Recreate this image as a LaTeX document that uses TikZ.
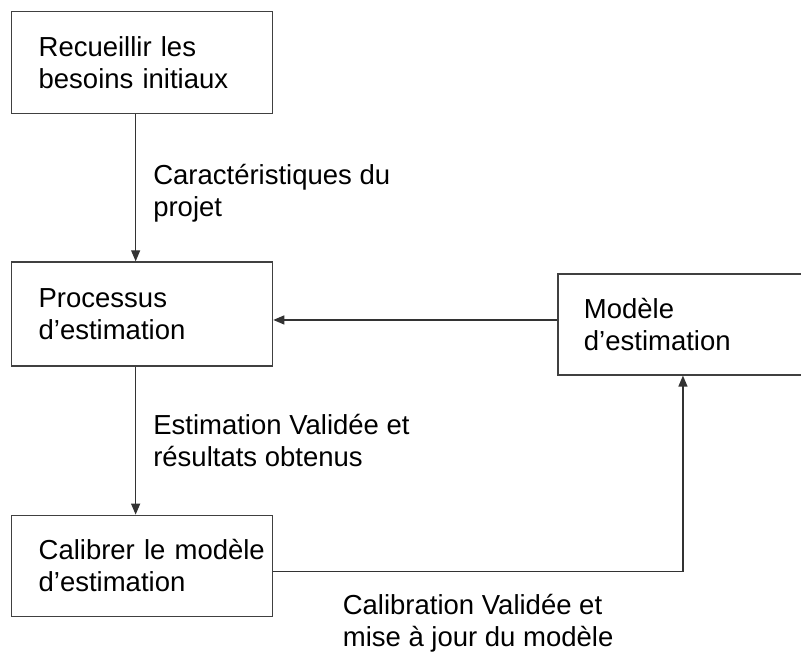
\documentclass[tikz,border=0pt]{standalone}
\usepackage{fontspec}
\setmainfont{Liberation Sans}
\usetikzlibrary{positioning, arrows.meta}
\hyphenpenalty=10000

\begin{document}
\begin{tikzpicture}[
        x=1pt, y=-1pt,
        font=\fontsize{27.5}{32}\selectfont,
        >=Triangle,
        % Styles
        block/.style={draw=black!75, line width=1.3pt, fill=white, minimum width=261pt, minimum height=102pt, text width=207pt, inner xsep=27pt, align=left},
        arrow/.style={-{Triangle[length=11pt, width=9pt]}, line width=1.3pt, draw=black!80},
        lbl/.style={align=left, inner sep=0pt}
    ]
    \useasboundingbox (0,0) rectangle (801,653);

    % Process column (left)
    \node[block, anchor=north west] (besoins) at (11,11) {Recueillir les\\besoins initiaux};
    \node[block, below=147pt of besoins, minimum height=104pt] (processus) {Processus\\d'estimation};
    \node[block, below=148pt of processus, minimum height=101pt] (calibrer) {\mbox{Calibrer le modèle}\\d'estimation};

    % Model (right, cut by the page edge)
    \node[block, right=284pt of processus, yshift=-10.5pt, minimum width=250pt, minimum height=101pt, text width=198pt, inner xsep=26pt] (modele) {Modèle\\d'estimation};

    \draw[arrow] ([xshift=-6.5pt]besoins.south) -- node[lbl, right=17pt, pos=0.54] {Caractéristiques du\\projet} ([xshift=-6.5pt]processus.north);
    \draw[arrow] ([xshift=-6.5pt]processus.south) -- node[lbl, right=17pt] {Estimation Validée et\\résultats obtenus} ([xshift=-6.5pt]calibrer.north);
    \draw[arrow] ([yshift=4.5pt]modele.west) -- ([yshift=4.5pt]modele.west -| processus.east);

    % Feedback loop
    \draw[arrow] ([yshift=-5.5pt]calibrer.east) -| node[lbl, pos=0.25, below=22pt] {Calibration Validée et\\mise à jour du modèle} (modele.south);

\end{tikzpicture}
\end{document}
